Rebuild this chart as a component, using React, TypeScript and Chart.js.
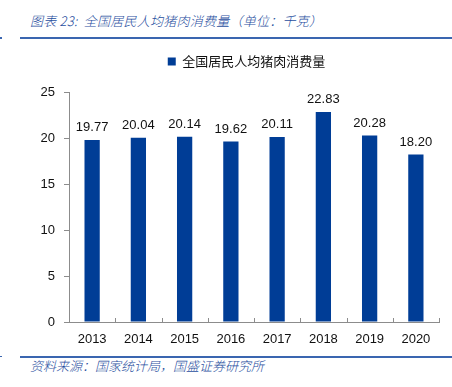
import React, { useEffect, useRef } from "react";
import { Chart, registerables } from "chart.js";

Chart.register(...registerables);

const categories = ["2013", "2014", "2015", "2016", "2017", "2018", "2019", "2020"];
const seriesName = "全国居民人均猪肉消费量";
const values = [19.77, 20.04, 20.14, 19.62, 20.11, 22.83, 20.28, 18.2];
const yTicks = [0, 5, 10, 15, 20, 25];

const titleText = "图表 23:  全国居民人均猪肉消费量（单位：千克）";
const sourceText = "资料来源：国家统计局，国盛证券研究所";

const BAR = "#003D96";
const BLUE = "#1F4E9E";
const AXIS = "#8C8C8C";
const FONT = "'Liberation Sans', 'Noto Sans CJK SC', sans-serif";

export default function App() {
  const ref = useRef<HTMLCanvasElement | null>(null);

  useEffect(() => {
    const canvas = ref.current;
    if (!canvas) return;

    const extras = {
      id: "extras",
      beforeInit(chart: any) {
        const lg = chart.legend;
        if (lg) {
          const orig = lg.fit;
          lg.fit = function () {
            orig.call(this);
            this.height += 14;
          };
        }
      },
      afterLayout(chart: any) {
        const lg = chart.legend;
        if (lg) {
          lg.left += 27;
          lg.right += 27;
        }
      },
      afterDatasetsDraw(chart: any) {
        const ctx = chart.ctx;
        const meta = chart.getDatasetMeta(0);
        ctx.save();
        ctx.fillStyle = "#111";
        ctx.font = `13px ${FONT}`;
        ctx.textAlign = "center";
        ctx.textBaseline = "bottom";
        meta.data.forEach((el: any, i: number) => {
          ctx.fillText(values[i].toFixed(2), el.x, el.y - 6);
        });
        // inward x tick marks at category boundaries
        const xs = chart.scales.x;
        const n = categories.length;
        const step = (xs.right - xs.left) / n;
        ctx.strokeStyle = AXIS;
        ctx.lineWidth = 1;
        ctx.beginPath();
        for (let i = 1; i <= n; i++) {
          const x = Math.round(xs.left + i * step) + 0.5;
          ctx.moveTo(x, xs.top);
          ctx.lineTo(x, xs.top - 4);
        }
        ctx.stroke();
        ctx.restore();
      },
    };

    const chart = new Chart(canvas, {
      type: "bar",
      data: {
        labels: categories,
        datasets: [
          {
            label: seriesName,
            data: values,
            backgroundColor: BAR,
            borderWidth: 0,
            barPercentage: 0.33,
            categoryPercentage: 1,
          },
        ],
      },
      options: {
        animation: false,
        responsive: false,
        maintainAspectRatio: false,
        layout: { padding: { left: 0, right: 13, top: 0, bottom: 0 } },
        plugins: {
          legend: {
            display: true,
            position: "top",
            align: "center",
            labels: {
              boxWidth: 8,
              boxHeight: 8,
              padding: 10,
              color: "#111",
              font: { size: 13, family: "'Noto Sans CJK SC', sans-serif" },
            },
          },
          tooltip: { enabled: false },
        },
        scales: {
          x: {
            grid: { display: false, drawTicks: false },
            border: { display: true, color: AXIS, width: 1 },
            ticks: { color: "#111", padding: 10, font: { size: 13, family: FONT } },
            afterFit(scale: any) {
              scale.height = 28;
            },
          },
          y: {
            min: 0,
            max: 25,
            afterBuildTicks(scale: any) {
              scale.ticks = yTicks.map((v) => ({ value: v }));
            },
            grid: {
              display: true,
              drawOnChartArea: false,
              drawTicks: true,
              tickLength: 5,
              color: AXIS,
            },
            border: { display: true, color: AXIS, width: 1 },
            ticks: { color: "#111", padding: 9, font: { size: 13, family: FONT } },
            afterFit(scale: any) {
              scale.width = 69;
            },
          },
        },
      },
      plugins: [extras],
    } as any);

    return () => chart.destroy();
  }, []);

  return (
    <div style={{ position: "absolute", left: 0, top: 0, width: 452, height: 387, background: "#fff", overflow: "hidden" }}>
      <div
        style={{
          position: "absolute",
          left: 30,
          top: 11,
          fontFamily: "'Noto Sans CJK SC', sans-serif",
          fontStyle: "italic",
          fontWeight: 300,
          fontSize: 13,
          letterSpacing: "0.25px",
          lineHeight: "20px",
          color: BLUE,
          whiteSpace: "pre",
        }}
      >
        {titleText}
      </div>
      <div style={{ position: "absolute", left: 0, top: 37, width: 2, height: 2, background: "#3A66B0" }} />
      <div style={{ position: "absolute", left: 20, top: 37, width: 432, height: 2, background: "#3A66B0" }} />
      <canvas ref={ref} width={452} height={305} style={{ position: "absolute", left: 0, top: 45, width: 452, height: 305 }} />
      <div style={{ position: "absolute", left: 0, top: 356, width: 2, height: 1, background: "#3A66B0" }} />
      <div style={{ position: "absolute", left: 20, top: 356, width: 432, height: 2, background: "#3A66B0" }} />
      <div
        style={{
          position: "absolute",
          left: 30,
          top: 357,
          fontFamily: "'Noto Sans CJK SC', sans-serif",
          fontStyle: "italic",
          fontWeight: 300,
          fontSize: 13,
          lineHeight: "18px",
          color: BLUE,
          whiteSpace: "pre",
        }}
      >
        {sourceText}
      </div>
    </div>
  );
}
